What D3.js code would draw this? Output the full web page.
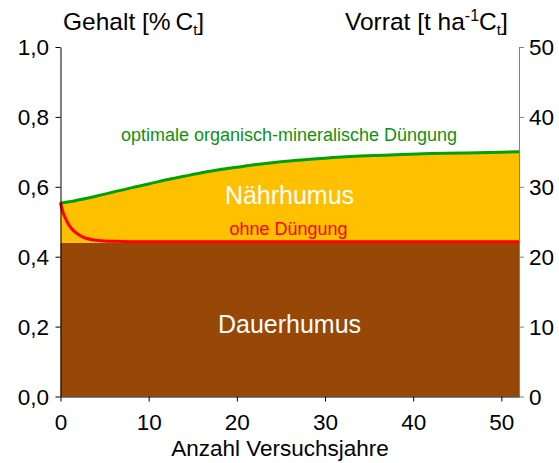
<!DOCTYPE html>
<html><head><meta charset="utf-8">
<script src="https://cdn.jsdelivr.net/npm/d3@7"></script>
<style>body{margin:0;background:#fff}svg{display:block;font-family:"Liberation Sans",Arial,sans-serif}</style>
</head><body><svg id="c" width="559" height="463"></svg>
<script>
const years = [0,1,2,3,4,5,6,8,10,12,14,16,18,20,22,24,26,28,30,34,38,42,46,50,52];
const optimal = [0.553,0.557,0.562,0.567,0.573,0.579,0.585,0.597,0.608,0.620,0.630,0.640,0.649,0.656,0.663,0.669,0.674,0.678,0.682,0.688,0.692,0.695,0.697,0.699,0.700];
const noFertYears = [0,0.15,0.3,0.5,0.75,1,1.5,2,2.5,3,4,5,6,8,10,20,30,40,52];
const noFert = [0.555,0.538,0.526,0.513,0.500,0.489,0.474,0.464,0.457,0.452,0.447,0.445,0.444,0.443,0.443,0.443,0.443,0.443,0.443];
const dauerhumus = 0.44;
const leftTicks = [0,0.2,0.4,0.6,0.8,1.0];
const rightTicks = [0,10,20,30,40,50];
const xTicks = [0,10,20,30,40,50];

const svg = d3.select("#c");
const x = d3.scaleLinear().domain([0,52]).range([60.5,519]);
const y = d3.scaleLinear().domain([0,1]).range([396.5,47]);
const y2 = d3.scaleLinear().domain([0,50]).range([396.5,47]);

svg.append("rect").attr("x",x(0)).attr("y",y(dauerhumus)).attr("width",x(52)-x(0)).attr("height",y(0)-y(dauerhumus)).attr("fill","#984806");
const optData = years.map((d,i)=>({x:d,y:optimal[i]}));
svg.append("path").datum(optData).attr("fill","#FFC000")
  .attr("d",d3.area().x(d=>x(d.x)).y0(y(dauerhumus)).y1(d=>y(d.y)).curve(d3.curveMonotoneX));
svg.append("path").datum(optData).attr("fill","none").attr("stroke","#00A000").attr("stroke-width",3)
  .attr("d",d3.line().x(d=>x(d.x)).y(d=>y(d.y)).curve(d3.curveMonotoneX));
const nfData = noFertYears.map((d,i)=>({x:d,y:noFert[i]}));
svg.append("path").datum(nfData).attr("fill","none").attr("stroke","#FF0000").attr("stroke-width",3)
  .attr("d",d3.line().x(d=>x(d.x)).y(d=>y(d.y)).curve(d3.curveMonotoneX));

const fmt = d=>d3.format(".1f")(d).replace(".",",");
const gl = svg.append("g").attr("transform",`translate(${x(0)},0)`).call(d3.axisLeft(y).tickValues(leftTicks).tickFormat(fmt).tickSize(5).tickSizeOuter(0));
const gr = svg.append("g").attr("transform",`translate(${x(52)},0)`).call(d3.axisRight(y2).tickValues(rightTicks).tickSize(5).tickSizeOuter(0));
const gb = svg.append("g").attr("transform",`translate(0,${y(0)})`).call(d3.axisBottom(x).tickValues(xTicks).tickSize(5).tickSizeOuter(0));
[gl,gr,gb].forEach(g=>{
  g.selectAll("text").attr("font-size",22.5).attr("font-family","Liberation Sans, Arial, sans-serif").attr("fill","#000");
});
gl.selectAll("path,line").attr("stroke","#000");
gr.selectAll("path,line").attr("stroke","#808080");
gb.selectAll("path,line").attr("stroke","#000");
gl.selectAll("text").attr("x",-11.5).attr("dy","0.35em");
gr.selectAll("text").attr("x",10).attr("dy","0.35em");
gb.selectAll("text").attr("y",18);

const t1 = svg.append("text").attr("x",63).attr("y",30).attr("font-size",24.5);
t1.append("tspan").text("Gehalt [%\u2009C");
t1.append("tspan").attr("font-size",15).attr("dy",5).text("t");
t1.append("tspan").attr("dy",-5).text("]");
const t2 = svg.append("text").attr("x",345).attr("y",30).attr("font-size",24.5);
t2.append("tspan").text("Vorrat [t ha");
t2.append("tspan").attr("font-size",16).attr("dy",-9).text("-1");
t2.append("tspan").attr("dy",9).text("C");
t2.append("tspan").attr("font-size",15).attr("dy",5).text("t");
t2.append("tspan").attr("dy",-5).text("]");
svg.append("text").attr("x",280).attr("y",456).attr("text-anchor","middle").attr("font-size",22.5).text("Anzahl Versuchsjahre");

svg.append("text").attr("x",289).attr("y",141).attr("text-anchor","middle").attr("font-size",18).attr("fill","#109010").text("optimale organisch-mineralische Düngung");
svg.append("text").attr("x",289.5).attr("y",204).attr("text-anchor","middle").attr("font-size",25).attr("fill","#fff").text("Nährhumus");
svg.append("text").attr("x",288.5).attr("y",235).attr("text-anchor","middle").attr("font-size",18).attr("fill","#FF0000").text("ohne Düngung");
svg.append("text").attr("x",289.5).attr("y",333).attr("text-anchor","middle").attr("font-size",25).attr("fill","#fff").text("Dauerhumus");
</script></body></html>
